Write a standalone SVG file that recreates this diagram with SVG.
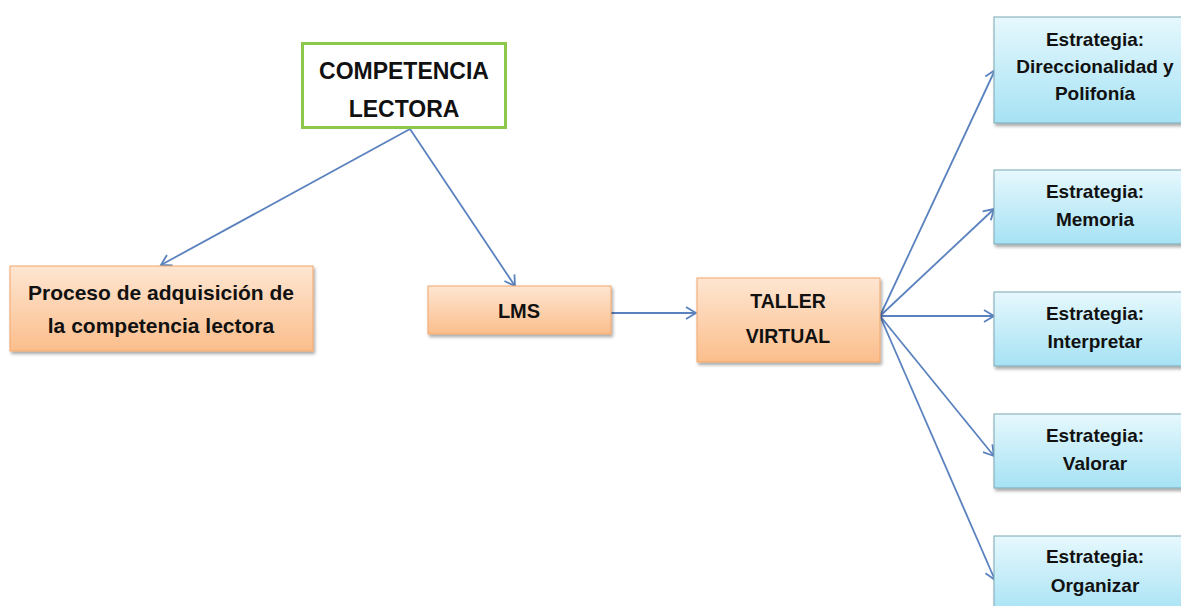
<svg xmlns="http://www.w3.org/2000/svg" width="1181" height="606" viewBox="0 0 1181 606">
<defs>
<linearGradient id="og" x1="0" y1="0" x2="0" y2="1"><stop offset="0" stop-color="#FEE6D2"/><stop offset="1" stop-color="#FBBE8C"/></linearGradient>
<linearGradient id="bg" x1="0" y1="0" x2="0" y2="1"><stop offset="0" stop-color="#E6F8FD"/><stop offset="1" stop-color="#A6E2F4"/></linearGradient>
<filter id="sh" x="-10%" y="-10%" width="130%" height="140%"><feDropShadow dx="1.5" dy="2.5" stdDeviation="1.5" flood-color="#000" flood-opacity="0.35"/></filter>
<marker id="ar" markerWidth="14" markerHeight="14" refX="12" refY="7" orient="auto" markerUnits="userSpaceOnUse"><path d="M2,1 L12,7 L2,13" fill="none" stroke="#5A82BE" stroke-width="1.8"/></marker>
</defs>
<style>
.t{font-family:"Liberation Sans",Arial,sans-serif;font-weight:bold;fill:#111;text-anchor:middle}
.o{fill:url(#og);stroke:#F2A66A;stroke-width:1;filter:url(#sh)}
.b{fill:url(#bg);stroke:#7AA7B4;stroke-width:1;filter:url(#sh)}
.c{fill:none;stroke:#5A82BE;stroke-width:1.8;marker-end:url(#ar)}
.bt{font-size:19px}
</style>
<rect width="1181" height="606" fill="#fff"/>
<g id="connectors">
<line class="c" x1="410" y1="129" x2="161" y2="265"/>
<line class="c" x1="410" y1="129" x2="515" y2="286"/>
<line class="c" x1="611" y1="313" x2="696" y2="313"/>
<line class="c" x1="880" y1="316" x2="995" y2="70"/>
<line class="c" x1="880" y1="316" x2="994" y2="209"/>
<line class="c" x1="880" y1="316" x2="994" y2="316"/>
<line class="c" x1="880" y1="316" x2="994" y2="456"/>
<line class="c" x1="880" y1="316" x2="995" y2="580"/>
</g>
<g id="competencia">
<rect x="302.5" y="43.5" width="203" height="84" fill="#fff" stroke="#8CC84B" stroke-width="3"/>
<text class="t" x="404" y="79" font-size="23">COMPETENCIA</text>
<text class="t" x="404" y="117" font-size="23">LECTORA</text>
</g>
<g id="proceso">
<rect class="o" x="10" y="266" width="303" height="85"/>
<text class="t" x="161" y="300" font-size="21">Proceso de adquisición de</text>
<text class="t" x="161" y="333" font-size="21">la competencia lectora</text>
</g>
<g id="lms">
<rect class="o" x="428" y="286" width="183" height="48"/>
<text class="t" x="519" y="318" font-size="20">LMS</text>
</g>
<g id="taller">
<rect class="o" x="697" y="278" width="183" height="84"/>
<text class="t" x="788" y="308" font-size="19.5">TALLER</text>
<text class="t" x="788" y="343" font-size="19.5">VIRTUAL</text>
</g>
<g id="e1">
<rect class="b" x="994" y="17" width="192" height="106"/>
<text class="t bt" x="1095" y="46">Estrategia:</text>
<text class="t bt" x="1095" y="73">Direccionalidad y</text>
<text class="t bt" x="1095" y="100">Polifonía</text>
</g>
<g id="e2">
<rect class="b" x="994" y="170" width="192" height="74"/>
<text class="t bt" x="1095" y="198">Estrategia:</text>
<text class="t bt" x="1095" y="226">Memoria</text>
</g>
<g id="e3">
<rect class="b" x="994" y="292" width="192" height="74"/>
<text class="t bt" x="1095" y="320">Estrategia:</text>
<text class="t bt" x="1095" y="348">Interpretar</text>
</g>
<g id="e4">
<rect class="b" x="994" y="414" width="192" height="74"/>
<text class="t bt" x="1095" y="442">Estrategia:</text>
<text class="t bt" x="1095" y="470">Valorar</text>
</g>
<g id="e5">
<rect class="b" x="994" y="536" width="192" height="80"/>
<text class="t bt" x="1095" y="563">Estrategia:</text>
<text class="t bt" x="1095" y="592">Organizar</text>
</g>
</svg>
